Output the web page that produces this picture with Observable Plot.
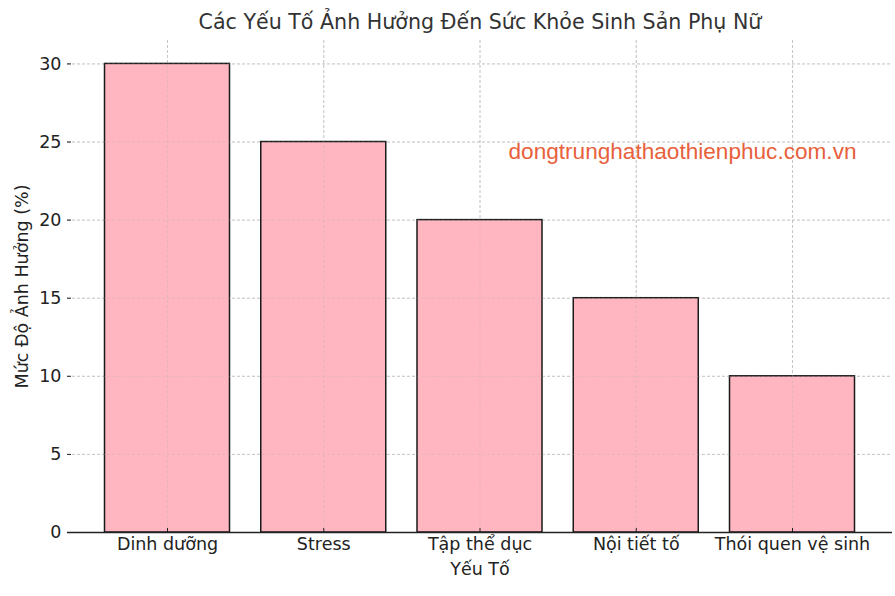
<!DOCTYPE html>
<html><head><meta charset="utf-8">
<script src="https://cdn.jsdelivr.net/npm/d3@7"></script>
<script src="https://cdn.jsdelivr.net/npm/@observablehq/plot@0.6"></script>
<style>body{margin:0;background:#fff}</style>
</head><body><div id="chart"></div>
<script>
const categories = ["Dinh dưỡng", "Stress", "Tập thể dục", "Nội tiết tố", "Thói quen vệ sinh"];
const values = [30, 25, 20, 15, 10];
const yTicks = [0, 5, 10, 15, 20, 25, 30];
const title = "Các Yếu Tố Ảnh Hưởng Đến Sức Khỏe Sinh Sản Phụ Nữ";
const xLabel = "Yếu Tố";
const yLabel = "Mức Độ Ảnh Hưởng (%)";
const watermark = "dongtrunghathaothienphuc.com.vn";

const data = categories.map((c, i) => ({category: c, value: values[i]}));
const font = "DejaVu Sans, sans-serif";

const chart = Plot.plot({
  width: 895,
  height: 596,
  marginLeft: 67,
  marginRight: 3,
  marginTop: 40,
  marginBottom: 64,
  style: {fontFamily: font, fontSize: "17.5px", color: "#222", background: "#fff"},
  x: {domain: categories, paddingInner: 0.2, paddingOuter: 0.24, round: false},
  y: {domain: [0, 31.5]},
  marks: [
    Plot.gridY(yTicks, {stroke: "#b0b0b0", strokeOpacity: 0.6, strokeDasharray: "3,2"}),
    Plot.gridX(categories, {stroke: "#b0b0b0", strokeOpacity: 0.6, strokeDasharray: "3,2"}),
    Plot.barY(data, {x: "category", y: "value", fill: "#FFB6C1", stroke: "#1a1a1a", strokeWidth: 1.5}),
    Plot.gridY(yTicks, {stroke: "#b0b0b0", strokeOpacity: 0.3, strokeDasharray: "3,2"}),
    Plot.gridX(categories, {stroke: "#b0b0b0", strokeOpacity: 0.3, strokeDasharray: "3,2"}),
    Plot.axisY({ticks: yTicks, tickSize: -4, tickPadding: 10, label: null, fontSize: 17.5, fill: "#222", stroke: "#222"}),
    Plot.axisX({tickSize: -4, tickPadding: 9, label: null, fontSize: 17.5, fill: "#222", stroke: "#222"}),
    Plot.ruleY([0], {stroke: "#222", strokeWidth: 1.5}),
    Plot.axisY({ticks: [], tickSize: 0, label: null, line: true, stroke: "#222", strokeWidth: 1.5}),
    Plot.text([title], {frameAnchor: "top", dy: -26, fontSize: 20.6, fill: "#333", text: d => d}),
    Plot.text([xLabel], {frameAnchor: "bottom", dy: 42, fontSize: 17.5, fill: "#222", text: d => d}),
    Plot.text([yLabel], {frameAnchor: "left", dx: -45, rotate: -90, textAnchor: "middle", fontSize: 17.5, fill: "#222", text: d => d}),
    Plot.text([watermark], {frameAnchor: "top-right", dx: -36, dy: 102, textAnchor: "end", fontSize: 22.6, fontFamily: "Liberation Sans, Arial, sans-serif", fill: "#E8603C", text: d => d})
  ]
});
document.getElementById("chart").appendChild(chart);
</script>
</body></html>
